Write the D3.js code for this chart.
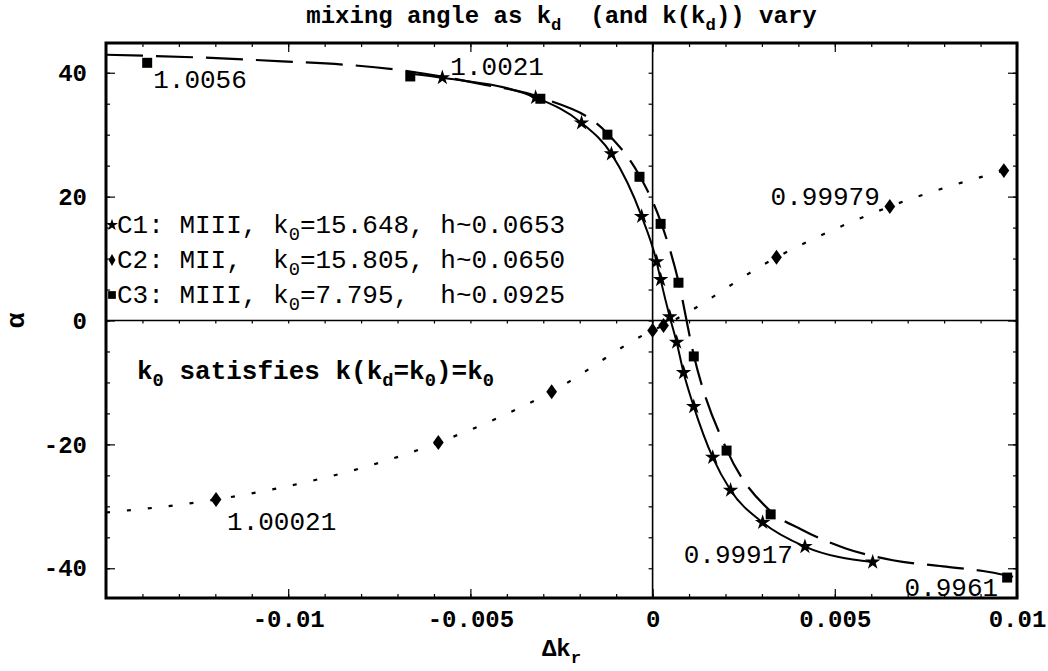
<!DOCTYPE html>
<html>
<head>
<meta charset="utf-8">
<script src="https://cdn.jsdelivr.net/npm/d3@7"></script>
<style>
  body { margin: 0; background: #fff; }
  text { font-family: "Liberation Mono", "DejaVu Sans Mono", monospace; white-space: pre; }
</style>
</head>
<body>
<div class="canvas"></div>
<script>
// ---- data ----
// C1 (stars, solid)
const c1Dk = [-0.00577, -0.00321, -0.00195, -0.00113, -0.0003, 0.00011, 0.00022, 0.00047,
              0.00066, 0.00085, 0.00113, 0.00165, 0.00214, 0.00302, 0.00418, 0.00604];
const c1Alpha = [39.2, 36.0, 31.9, 26.9, 16.8, 9.5, 6.6, 0.6,
                 -3.5, -8.4, -13.9, -22.1, -27.4, -32.6, -36.5, -39.0];
const c1LineDk = [-0.00659, ...c1Dk];
const c1LineAlpha = [39.8, ...c1Alpha];

// C2 (diamonds, dotted)
const c2Dk = [-0.01198, -0.00588, -0.00277, 0.0, 0.0003, 0.0034, 0.00651, 0.00964];
const c2Alpha = [-28.9, -19.7, -11.5, -1.6, -0.8, 10.2, 18.4, 24.2];
const c2LineDk = [-0.015, ...c2Dk];
const c2LineAlpha = [-31.0, ...c2Alpha];

// C3 (squares, dashed)
const c3Dk = [-0.01387, -0.00665, -0.00308, -0.00124, -0.00036, 0.00022, 0.00071, 0.00113,
              0.00203, 0.00324, 0.00973];
const c3Alpha = [41.6, 39.4, 35.8, 30.0, 23.2, 15.6, 6.1, -5.8, -21.0, -31.3, -41.5];
const c3LineDk = [-0.015, -0.01104, -0.00665, -0.00473, -0.00308, -0.00124, -0.00036, 0.00022,
                  0.00071, 0.00113, 0.00203, 0.00324, 0.00407, 0.0053, 0.00659, 0.00797, 0.00923, 0.01];
const c3LineAlpha = [42.9, 42.1, 40.2, 38.2, 36.0, 30.2, 23.4, 16.0,
                     6.3, -5.6, -20.8, -30.8, -33.7, -36.8, -38.7, -39.7, -40.6, -41.5];

// ticks
const xTicks = [-0.01, -0.005, 0, 0.005, 0.01];
const xTickLabels = ['-0.01', '-0.005', '0', '0.005', '0.01'];
const yTicks = [-40, -20, 0, 20, 40];
const yTickLabels = ['-40', '-20', '0', '20', '40'];

// point labels (k values)
const pointLabels = ['1.0056', '1.0021', '1.00021', '0.99979', '0.99917', '0.9961'];

// margins
const margin = {top: 43, right: 31, bottom: 73, left: 106};
const graphWidth = 1048 - margin.left - margin.right;
const graphHeight = 671 - margin.top - margin.bottom;

const svg = d3.select('.canvas').append('svg')
    .attr('width', 1048)
    .attr('height', 671);

const graph = svg.append('g')
    .attr('transform', `translate(${margin.left}, ${margin.top})`);

// scales
const x = d3.scaleLinear().domain([-0.015, 0.01]).range([0, graphWidth]);
const y = d3.scaleLinear().domain([-44.8, 44.8]).range([graphHeight, 0]);

const tickFont = g => g.attr('font-family', '"Liberation Mono", monospace')
    .attr('font-size', 24).attr('font-weight', 'bold');

// major + minor ticks on all four sides (inside the frame)
const xMinor = d3.range(-15, 11).map(i => i / 1000);
const yMinor = d3.range(-8, 9).map(i => i * 5);

graph.append('g').attr('transform', `translate(0, ${graphHeight})`)
    .call(d3.axisBottom(x).tickValues(xMinor).tickSize(-4).tickFormat(''));
graph.append('g').attr('transform', `translate(0, ${graphHeight})`)
    .call(d3.axisBottom(x).tickValues(xTicks).tickSize(-9).tickPadding(12)
        .tickFormat((d, i) => xTickLabels[i]))
    .call(tickFont);
graph.append('g')
    .call(d3.axisTop(x).tickValues(xMinor).tickSize(-4).tickFormat(''));
graph.append('g')
    .call(d3.axisTop(x).tickValues(xTicks).tickSize(-9).tickFormat(''));

graph.append('g')
    .call(d3.axisLeft(y).tickValues(yMinor).tickSize(-4).tickFormat(''));
graph.append('g')
    .call(d3.axisLeft(y).tickValues(yTicks).tickSize(-9).tickPadding(19)
        .tickFormat((d, i) => yTickLabels[i]))
    .call(tickFont);
graph.append('g').attr('transform', `translate(${graphWidth}, 0)`)
    .call(d3.axisRight(y).tickValues(yMinor).tickSize(-4).tickFormat(''));
graph.append('g').attr('transform', `translate(${graphWidth}, 0)`)
    .call(d3.axisRight(y).tickValues(yTicks).tickSize(-9).tickFormat(''));

// small ticks along the zero axes
graph.append('g').attr('transform', `translate(${x(0)}, 0)`)
    .call(d3.axisLeft(y).tickValues(yMinor).tickSize(4).tickFormat(''));
graph.append('g').attr('transform', `translate(0, ${y(0)})`)
    .call(d3.axisBottom(x).tickValues(xMinor).tickSize(3).tickFormat(''));

graph.selectAll('.domain').remove();
graph.selectAll('.tick line').attr('stroke', '#000').attr('stroke-width', 1.2);
graph.selectAll('.tick text').attr('fill', '#000');

// zero axes
graph.append('line')
    .attr('x1', 0).attr('x2', graphWidth).attr('y1', y(0)).attr('y2', y(0))
    .attr('stroke', '#000').attr('stroke-width', 1.6);
graph.append('line')
    .attr('x1', x(0)).attr('x2', x(0)).attr('y1', 0).attr('y2', graphHeight)
    .attr('stroke', '#000').attr('stroke-width', 1.6);

// clip
svg.append('clipPath').attr('id', 'plot-clip')
    .append('rect').attr('width', graphWidth).attr('height', graphHeight);

const plot = graph.append('g').attr('clip-path', 'url(#plot-clip)');

// line generator
const line = d3.line()
    .x(d => x(d[0]))
    .y(d => y(d[1]))
    .curve(d3.curveMonotoneX);

plot.append('path')
    .datum(d3.zip(c2LineDk, c2LineAlpha))
    .attr('d', line)
    .attr('fill', 'none').attr('stroke', '#000').attr('stroke-width', 2.2)
    .attr('stroke-dasharray', '4,17');

plot.append('path')
    .datum(d3.zip(c3LineDk, c3LineAlpha))
    .attr('d', line)
    .attr('fill', 'none').attr('stroke', '#000').attr('stroke-width', 2.2)
    .attr('stroke-dasharray', '37,13');

plot.append('path')
    .datum(d3.zip(c1LineDk, c1LineAlpha))
    .attr('d', line)
    .attr('fill', 'none').attr('stroke', '#000').attr('stroke-width', 2);

// markers
const star = d3.symbol().type(d3.symbolStar).size(75);
const diamond = d3.symbol().type(d3.symbolDiamond).size(64);
const square = d3.symbol().type(d3.symbolSquare).size(100);

graph.append('g').selectAll('path')
    .data(d3.zip(c1Dk, c1Alpha)).enter().append('path')
    .attr('d', star)
    .attr('transform', d => `translate(${x(d[0])}, ${y(d[1])})`)
    .attr('fill', '#000');

graph.append('g').selectAll('path')
    .data(d3.zip(c2Dk, c2Alpha)).enter().append('path')
    .attr('d', diamond)
    .attr('transform', d => `translate(${x(d[0])}, ${y(d[1])}) scale(1.25, 1)`)
    .attr('fill', '#000');

graph.append('g').selectAll('path')
    .data(d3.zip(c3Dk, c3Alpha)).enter().append('path')
    .attr('d', square)
    .attr('transform', d => `translate(${x(d[0])}, ${y(d[1])})`)
    .attr('fill', '#000');

// point labels, anchored to a marker of a series
const labelAnchors = [
    {dk: c3Dk, al: c3Alpha, i: 0, dx: 6, dy: 25, anchor: 'start'},
    {dk: c1Dk, al: c1Alpha, i: 0, dx: 8, dy: -3, anchor: 'start'},
    {dk: c2Dk, al: c2Alpha, i: 0, dx: 11, dy: 30, anchor: 'start'},
    {dk: c2Dk, al: c2Alpha, i: 6, dx: -10, dy: -2, anchor: 'end'},
    {dk: c1Dk, al: c1Alpha, i: 14, dx: -12, dy: 16, anchor: 'end'},
    {dk: c3Dk, al: c3Alpha, i: 10, dx: -9, dy: 18, anchor: 'end'}
];
graph.append('g').selectAll('text')
    .data(labelAnchors).enter().append('text')
    .attr('x', d => x(d.dk[d.i]) + d.dx)
    .attr('y', d => y(d.al[d.i]) + d.dy)
    .attr('text-anchor', d => d.anchor)
    .attr('font-size', 26)
    .text((d, i) => pointLabels[i]);

// text with subscripts: parts = [[string, isSub], ...]
function richText(sel, parts, size) {
    let shift = 0;
    parts.forEach(([s, sub]) => {
        const want = sub ? size * 0.28 : 0;
        sel.append('tspan')
            .attr('font-size', sub ? size * 0.72 : size)
            .attr('dy', want - shift)
            .text(s);
        shift = want;
    });
}

// legend
const legendRows = [
    [['C1: MIII, k', false], ['0', true], ['=15.648, h~0.0653', false]],
    [['C2: MII,  k', false], ['0', true], ['=15.805, h~0.0650', false]],
    [['C3: MIII, k', false], ['0', true], ['=7.795,  h~0.0925', false]]
];
const legendSymbols = [
    d3.symbol().type(d3.symbolStar).size(45),
    d3.symbol().type(d3.symbolDiamond).size(40),
    d3.symbol().type(d3.symbolSquare).size(60)
];
const legend = graph.append('g');
legendRows.forEach((row, i) => {
    const by = 190 + i * 35;
    legend.append('path').attr('d', legendSymbols[i])
        .attr('transform', `translate(6, ${by - 8})`).attr('fill', '#000');
    richText(legend.append('text').attr('x', 11).attr('y', by), row, 26);
});

// note
richText(graph.append('text').attr('x', 31).attr('y', 336).attr('font-weight', 'bold'),
    [['k', false], ['0', true], [' satisfies k(k', false], ['d', true], ['=k', false],
     ['0', true], [')=k', false], ['0', true]], 26);

// title
richText(svg.append('text').attr('x', margin.left + graphWidth / 2).attr('y', 23)
        .attr('text-anchor', 'middle').attr('font-weight', 'bold'),
    [['mixing angle as k', false], ['d', true], ['  (and k(k', false], ['d', true],
     [')) vary', false]], 24);

// axis titles
richText(svg.append('text').attr('x', margin.left + graphWidth / 2).attr('y', 656)
        .attr('text-anchor', 'middle').attr('font-weight', 'bold'),
    [['\u0394k', false], ['r', true]], 24);

svg.append('text')
    .attr('transform', `translate(24, ${margin.top + y(0)}) rotate(-90)`)
    .attr('text-anchor', 'middle')
    .attr('font-size', 26).attr('font-weight', 'bold')
    .text('\u03b1');

// frame
graph.append('rect')
    .attr('width', graphWidth).attr('height', graphHeight)
    .attr('fill', 'none').attr('stroke', '#000').attr('stroke-width', 3);
</script>
</body>
</html>
